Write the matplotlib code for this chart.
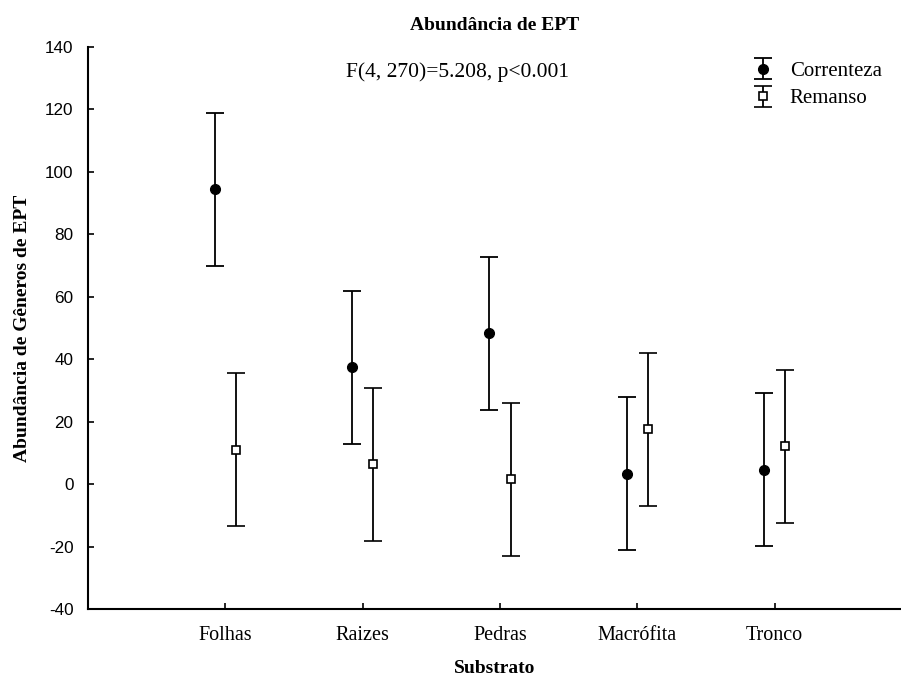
import matplotlib
matplotlib.use("Agg")
import matplotlib.pyplot as plt
import numpy as np

categories = ["Folhas", "Raizes", "Pedras", "Macrófita", "Tronco"]
correnteza_mean = [94.5, 37.4, 48.3, 3.3, 4.6]
correnteza_err = [24.5, 24.5, 24.5, 24.5, 24.5]
remanso_mean = [11.0, 6.3, 1.6, 17.5, 12.1]
remanso_err = [24.5, 24.5, 24.5, 24.5, 24.5]
yticks = [-40, -20, 0, 20, 40, 60, 80, 100, 120, 140]

serif = "Liberation Serif"
sans = "Liberation Sans"

W, H = 901, 679
fig = plt.figure(figsize=(W / 100, H / 100), dpi=100)
ax = fig.add_axes([88 / W, (H - 609) / H, 1 - 88 / W, (609 - 47) / H])

x = np.arange(len(categories))
off = 0.077
ax.errorbar(x - off, correnteza_mean, yerr=correnteza_err, fmt="o", color="black",
            ecolor="black", markersize=7, capsize=6.5, elinewidth=1.3, capthick=1.3,
            label="Correnteza")
ax.errorbar(x + off, remanso_mean, yerr=remanso_err, fmt="s", color="black",
            markerfacecolor="white", markeredgecolor="black", markeredgewidth=1.2,
            ecolor="black", markersize=6, capsize=6.5, elinewidth=1.3, capthick=1.3,
            label="Remanso")

ax.set_xlim(-1.0, 4.92)
ax.set_ylim(-40, 140)
ax.set_xticks(x)
ax.set_xticklabels(categories, fontfamily=serif, fontsize=14.5)
ax.set_yticks(yticks)
ax.set_yticklabels([str(v) for v in yticks], fontfamily=sans, fontsize=12.3)
ax.tick_params(direction="in", length=4, width=1.2)
ax.tick_params(axis="y", pad=10.5)
ax.tick_params(axis="x", pad=12)

for s in ["top", "right"]:
    ax.spines[s].set_visible(False)
for s in ["left", "bottom"]:
    ax.spines[s].set_linewidth(1.5)

ax.set_title("Abundância de EPT", fontfamily=serif, fontsize=14, fontweight="bold", pad=12.5)
ax.set_xlabel("Substrato", fontfamily=serif, fontsize=14, fontweight="bold", labelpad=11)
ax.set_ylabel("Abundância de Gêneros de EPT", fontfamily=serif, fontsize=14,
              fontweight="bold", labelpad=10)

ax.text(1.69, 132, "F(4, 270)=5.208, p<0.001", fontfamily=serif, fontsize=15.5,
        ha="center", va="center")

leg = ax.legend(loc="upper right", bbox_to_anchor=(890 / W, 1 - 53 / H),
                bbox_transform=fig.transFigure, borderaxespad=0, frameon=False,
                prop={"family": serif, "size": 15}, handlelength=1.6,
                handletextpad=0.5, labelspacing=0.38)

fig.savefig("out.png", dpi=100)
